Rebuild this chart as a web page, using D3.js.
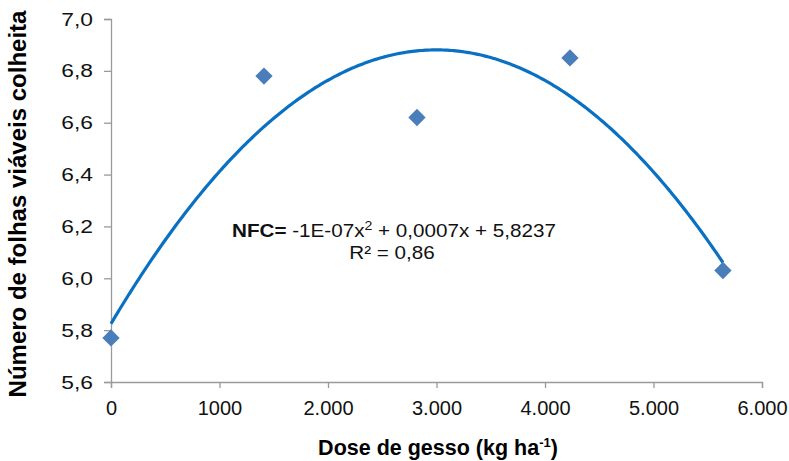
<!DOCTYPE html>
<html>
<head>
<meta charset="utf-8">
<script src="https://cdn.jsdelivr.net/npm/d3@7"></script>
<style>
  body { margin: 0; background: #fff; }
  text { font-family: "Liberation Sans", Arial, sans-serif; }
</style>
</head>
<body>
<svg id="chart"></svg>
<script>
// dados
const doses = [0, 1410, 2820, 4230, 5640];
const folhas = [5.77, 6.78, 6.62, 6.85, 6.03];
const xTicks = [0, 1000, 2000, 3000, 4000, 5000, 6000];
const xTickLabels = ["0", "1000", "2.000", "3.000", "4.000", "5.000", "6.000"];
const yTicks = [5.6, 5.8, 6.0, 6.2, 6.4, 6.6, 6.8, 7.0];
const yTickLabels = ["5,6", "5,8", "6,0", "6,2", "6,4", "6,6", "6,8", "7,0"];

const width = 789, height = 461;
const margin = { top: 19, right: 27, bottom: 79, left: 111 };

const svg = d3.select("#chart").attr("width", width).attr("height", height);

const x = d3.scaleLinear().domain([0, 6000]).range([margin.left, width - margin.right]);
const y = d3.scaleLinear().domain([5.6, 7.0]).range([height - margin.bottom, margin.top]);

// quadratic trendline (least squares, like Excel's polynomial trend)
function polyFit2(xs, ys) {
    let s = [0, 0, 0, 0, 0], t = [0, 0, 0];
    xs.forEach((xv, i) => {
        for (let k = 0; k < 5; k++) s[k] += Math.pow(xv, k);
        for (let k = 0; k < 3; k++) t[k] += Math.pow(xv, k) * ys[i];
    });
    const A = [[s[0], s[1], s[2], t[0]], [s[1], s[2], s[3], t[1]], [s[2], s[3], s[4], t[2]]];
    for (let i = 0; i < 3; i++) {
        for (let j = i + 1; j < 3; j++) {
            const f = A[j][i] / A[i][i];
            for (let k = i; k < 4; k++) A[j][k] -= f * A[i][k];
        }
    }
    const c = [0, 0, 0];
    for (let i = 2; i >= 0; i--) {
        let v = A[i][3];
        for (let k = i + 1; k < 3; k++) v -= A[i][k] * c[k];
        c[i] = v / A[i][i];
    }
    return c;
}
const coef = polyFit2(doses, folhas);
const trend = d3.range(0, 5640 + 1, 20).map(d => [d, coef[0] + coef[1] * d + coef[2] * d * d]);

// axes
const xAxis = d3.axisBottom(x).tickValues(xTicks).tickFormat((d, i) => xTickLabels[i]).tickSizeOuter(0).tickSize(6).tickPadding(13);
const yAxis = d3.axisLeft(y).tickValues(yTicks).tickFormat((d, i) => yTickLabels[i]).tickSizeOuter(0).tickSize(7);

const gx = svg.append("g").attr("transform", `translate(0,${height - margin.bottom})`).call(xAxis);
const gy = svg.append("g").attr("transform", `translate(${margin.left},0)`).call(yAxis);

[gx, gy].forEach(g => {
    g.select(".domain").attr("stroke", "#9a9a9a").attr("stroke-width", 1.3);
    g.selectAll(".tick line").attr("stroke", "#9a9a9a").attr("stroke-width", 1.3);
    g.selectAll(".tick text").attr("fill", "#111")
        .style("font-family", "'Liberation Sans', Arial, sans-serif");
});
gx.selectAll(".tick text").attr("font-size", "20px");
gy.selectAll(".tick text").attr("font-size", "19px")
    .attr("x", -15).attr("transform", "scale(1.2,1)");

// trendline
svg.append("path")
    .datum(trend)
    .attr("fill", "none")
    .attr("stroke", "#0a70c2")
    .attr("stroke-width", 3.2)
    .attr("d", d3.line().x(d => x(d[0])).y(d => y(d[1])));

// points
svg.append("g").selectAll("path")
    .data(doses.map((d, i) => [d, folhas[i]]))
    .enter()
    .append("path")
    .attr("transform", d => `translate(${x(d[0])},${y(d[1])}) rotate(45)`)
    .attr("d", d3.symbol().type(d3.symbolSquare).size(150))
    .attr("fill", "#4a7ebb");

// equation
const eqG = svg.append("g").attr("transform", "translate(232,237) scale(1.18,1)");
const eq = eqG.append("text").attr("font-size", "17.5px").attr("fill", "#111");
eq.append("tspan").attr("font-weight", "bold").text("NFC=");
eq.append("tspan").text(" -1E-07x");
eq.append("tspan").attr("font-size", "12px").attr("dy", -7).text("2");
eq.append("tspan").attr("dy", 7).text(" + 0,0007x + 5,8237");

svg.append("g").attr("transform", "translate(392,259) scale(1.18,1)")
    .append("text").attr("text-anchor", "middle")
    .attr("font-size", "17.5px").attr("fill", "#111").text("R² = 0,86");

// axis titles
const xt = svg.append("text").attr("x", 438).attr("y", 455).attr("text-anchor", "middle")
    .attr("font-size", "21.5px").attr("font-weight", "bold").attr("fill", "#000");
xt.append("tspan").text("Dose de gesso (kg ha");
xt.append("tspan").attr("font-size", "13px").attr("dy", -8).text("-1");
xt.append("tspan").attr("dy", 8).text(")");

svg.append("text")
    .attr("transform", "translate(26,204) rotate(-90)")
    .attr("text-anchor", "middle")
    .attr("font-size", "24px").attr("font-weight", "bold").attr("fill", "#000")
    .text("Número de folhas viáveis colheita");
</script>
</body>
</html>
